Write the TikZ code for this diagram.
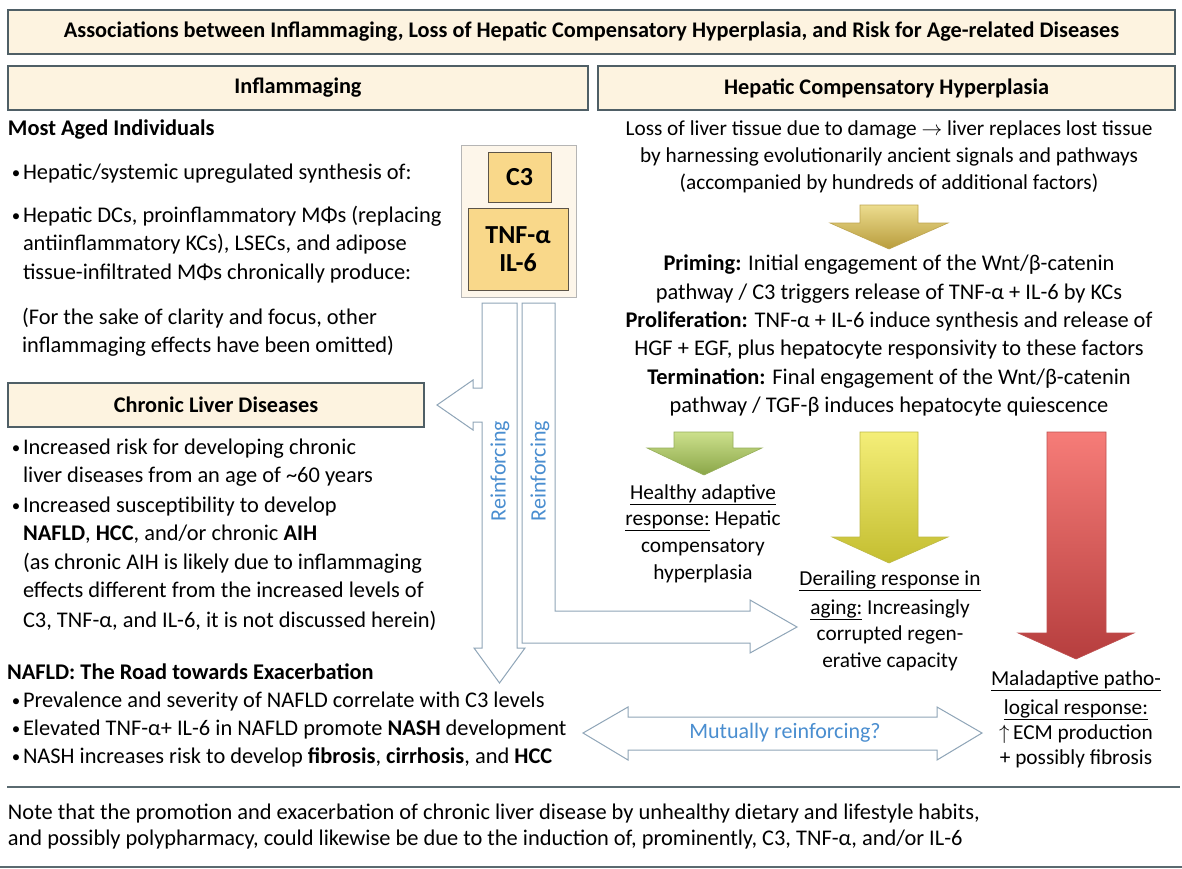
\documentclass[tikz,border=0pt]{standalone}
\usepackage{fontspec}
\setmainfont{Carlito}
\usetikzlibrary{shapes.geometric}
\definecolor{cream}{HTML}{FDF3E0}
\definecolor{hdr}{HTML}{4F5F66}
\definecolor{framefill}{HTML}{FDF6EA}
\definecolor{frameline}{HTML}{B5B5B5}
\definecolor{goldbox}{HTML}{F9D88A}
\definecolor{goldline}{HTML}{5C5448}
\definecolor{arr}{HTML}{8FA5B8}
\definecolor{rblue}{HTML}{4A8ED0}
\definecolor{rule}{HTML}{5A6A70}
\newcommand\bodyfs{\fontsize{22.4}{27}\selectfont}
\newcommand\smallfs{\fontsize{21.3}{26}\selectfont}
\newcommand\titlefs{\fontsize{22.3}{26}\selectfont}
\newcommand\hdrfs{\fontsize{22.3}{26}\selectfont}
\newcommand\bul{\makebox[11pt][l]{\raisebox{1.2pt}{\fontsize{17}{17}\selectfont•}}}
\begin{document}
\begin{tikzpicture}[x=1pt,y=-1pt, every node/.style={inner sep=0pt, outer sep=0pt}]
\tikzset{
 hbox/.style={draw=hdr, fill=cream, line width=1.3pt, inner sep=0pt, font=\hdrfs\bfseries},
 lt/.style={anchor=mid west, font=\bodyfs},
 ct/.style={anchor=mid, font=\bodyfs},
 cts/.style={anchor=mid, font=\smallfs},
 warrow/.style={draw=arr, fill=white, line width=1pt, line join=miter},
 carrow/.style={line width=0.6pt, line join=miter},
 cbox/.style={draw=goldline, fill=goldbox, line width=1pt, font=\fontsize{26}{30}\selectfont\bfseries, align=center},
 blue/.style={text=rblue, font=\fontsize{22}{26}\selectfont},
}
\useasboundingbox (0,0) rectangle (1182,869);
\fill[white] (0,0) rectangle (1182,869);

% header boxes
\node[hbox, minimum width=1167pt, minimum height=44pt, font=\titlefs\bfseries] (title) at (591.5,32) {Associations between Inflammaging, Loss of Hepatic Compensatory Hyperplasia, and Risk for Age-related Diseases};
\node[hbox, minimum width=580pt, minimum height=44pt] (infl) at (298,88) {Inflammaging};
\node[hbox, minimum width=577pt, minimum height=44pt] (hch) at (886.5,88) {Hepatic Compensatory Hyperplasia};
\node[hbox, minimum width=416pt, minimum height=44pt] (cld) at (216,405) {Chronic Liver Diseases};

% centre frame
\node[draw=frameline, fill=framefill, line width=1pt, minimum width=115pt, minimum height=151pt] (frame) at (518.5,221.5) {};
\node[cbox, minimum width=63pt, minimum height=49pt] (c3) at (519.5,177.5) {C3};
\node[cbox, minimum width=100pt, minimum height=82pt] (tnf) at (518,249) {TNF-α\\[-2pt]IL-6};

% white arrows
\draw[warrow] (482,303) -- (517,303) -- (517,648) -- (525,648) -- (499.5,683) -- (474,648) -- (482,648)
  -- (482,422) -- (473,422) -- (473,430) -- (437,405) -- (473,380) -- (473,388) -- (482,388) -- cycle;
\draw[warrow] (522,303) -- (555,303) -- (555,611) -- (750,611) -- (750,600) -- (797,627) -- (750,653)
  -- (750,643) -- (522,643) -- cycle;
\draw[warrow] (583,733) -- (628,707) -- (628,717) -- (937,717) -- (937,707) -- (982,733) -- (937,760)
  -- (937,750) -- (628,750) -- (628,760) -- cycle;
\node[blue, rotate=90] (rf1) at (500,471) {Reinforcing};
\node[blue, rotate=90] (rf2) at (540,471) {Reinforcing};
\node[blue] (mut) at (785,733) {Mutually reinforcing?};

% coloured arrows
\path[carrow, draw={rgb,255:red,190;green,165;blue,80}, top color={rgb,255:red,236;green,220;blue,142}, bottom color={rgb,255:red,184;green,156;blue,60}]
  (860,205) -- (918,205) -- (918,223) -- (948,223) -- (889,249) -- (830,223) -- (860,223) -- cycle;
\path[carrow, draw={rgb,255:red,150;green,175;blue,90}, top color={rgb,255:red,204;green,224;blue,140}, bottom color={rgb,255:red,138;green,166;blue,72}]
  (674,432) -- (733,432) -- (733,448) -- (762,448) -- (704,475) -- (647,448) -- (674,448) -- cycle;
\path[carrow, draw={rgb,255:red,190;green,185;blue,70}, top color={rgb,255:red,244;green,238;blue,120}, bottom color={rgb,255:red,196;green,190;blue,48}]
  (860,432) -- (918,432) -- (918,537) -- (948,537) -- (889,563) -- (832,537) -- (860,537) -- cycle;
\path[carrow, draw={rgb,255:red,190;green,80;blue,80}, top color={rgb,255:red,246;green,124;blue,120}, bottom color={rgb,255:red,182;green,62;blue,62}]
  (1047,432) -- (1106,432) -- (1106,633) -- (1134,633) -- (1076,659) -- (1018,633) -- (1047,633) -- cycle;

% left column
\node[lt, font=\bodyfs\bfseries] (mai) at (8,133) {Most Aged Individuals};
\node[lt] (l1) at (12,177) {\bul Hepatic/systemic upregulated synthesis of:};
\node[lt] (l2) at (12,220) {\bul Hepatic DCs, proinflammatory MΦs (replacing};
\node[lt] (l3) at (23,248) {antiinflammatory KCs), LSECs, and adipose};
\node[lt] (l4) at (23,277) {tissue-infiltrated MΦs chronically produce:};
\node[lt] (l5) at (22,322) {(For the sake of clarity and focus, other};
\node[lt] (l6) at (22,350) {inflammaging effects have been omitted)};

\node[lt] (c1) at (12,452) {\bul Increased risk for developing chronic};
\node[lt] (c2) at (23,480) {liver diseases from an age of \textasciitilde60 years};
\node[lt] (c3l) at (12,510) {\bul Increased susceptibility to develop};
\node[lt] (c4) at (23,538) {\textbf{NAFLD}, \textbf{HCC}, and/or chronic \textbf{AIH}};
\node[lt] (c5) at (23,567) {(as chronic AIH is likely due to inflammaging};
\node[lt] (c6) at (23,595) {effects different from the increased levels of};
\node[lt] (c7) at (23,625) {C3, TNF-α, and IL-6, it is not discussed herein)};

\node[lt, font=\bodyfs\bfseries] (nh) at (7,677) {NAFLD: The Road towards Exacerbation};
\node[lt] (n1) at (12,705) {\bul Prevalence and severity of NAFLD correlate with C3 levels};
\node[lt] (n2) at (12,733) {\bul Elevated TNF-α+ IL-6 in NAFLD promote \textbf{NASH} development};
\node[lt] (n3) at (12,761) {\bul NASH increases risk to develop \textbf{fibrosis}, \textbf{cirrhosis}, and \textbf{HCC}};

% right column
\node[cts] (r1) at (889,133) {Loss of liver tissue due to damage $\rightarrow$ liver replaces lost tissue};
\node[cts] (r2) at (889,160) {by harnessing evolutionarily ancient signals and pathways};
\node[cts] (r3) at (889,187) {(accompanied by hundreds of additional factors)};
\node[ct] (p1) at (889,268) {\textbf{Priming:} Initial engagement of the Wnt/β-catenin};
\node[ct] (p2) at (889,297) {pathway / C3 triggers release of TNF-α + IL-6 by KCs};
\node[ct] (p3) at (889,325) {\textbf{Proliferation:} TNF-α + IL-6 induce synthesis and release of};
\node[ct] (p4) at (889,353) {HGF + EGF, plus hepatocyte responsivity to these factors};
\node[ct] (p5) at (889,382) {\textbf{Termination:} Final engagement of the Wnt/β-catenin};
\node[ct] (p6) at (889,410) {pathway / TGF-β induces hepatocyte quiescence};

\node[cts] (h1) at (703,497) {\underline{Healthy adaptive}};
\node[cts] (h2) at (703,523) {\underline{response:} Hepatic};
\node[cts] (h3) at (703,550) {compensatory};
\node[cts] (h4) at (703,577) {hyperplasia};

\node[cts] (d1) at (890,583) {\underline{Derailing response in}};
\node[cts] (d2) at (890,612) {\underline{aging:} Increasingly};
\node[cts] (d3) at (890,638) {corrupted regen-};
\node[cts] (d4) at (890,665) {erative capacity};

\node[cts] (m1) at (1076,683) {\underline{Maladaptive patho-}};
\node[cts] (m2) at (1076,712) {\underline{logical response:}};
\node[cts] (m3) at (1076,737) {$\uparrow$\,ECM production};
\node[cts] (m4) at (1076,762) {+ possibly fibrosis};

% rules and note
\coordinate (ra) at (7,787); \coordinate (rb) at (1180,787);
\coordinate (rc) at (0,867); \coordinate (rd) at (1182,867);
\draw[rule, line width=1.3pt] (ra) -- (rb);
\draw[rule, line width=1.3pt] (rc) -- (rd);
\node[lt] (nt1) at (8,817) {Note that the promotion and exacerbation of chronic liver disease by unhealthy dietary and lifestyle habits,};
\node[lt] (nt2) at (8,843) {and possibly polypharmacy, could likewise be due to the induction of, prominently, C3, TNF-α, and/or IL-6};
\end{tikzpicture}
\end{document}
